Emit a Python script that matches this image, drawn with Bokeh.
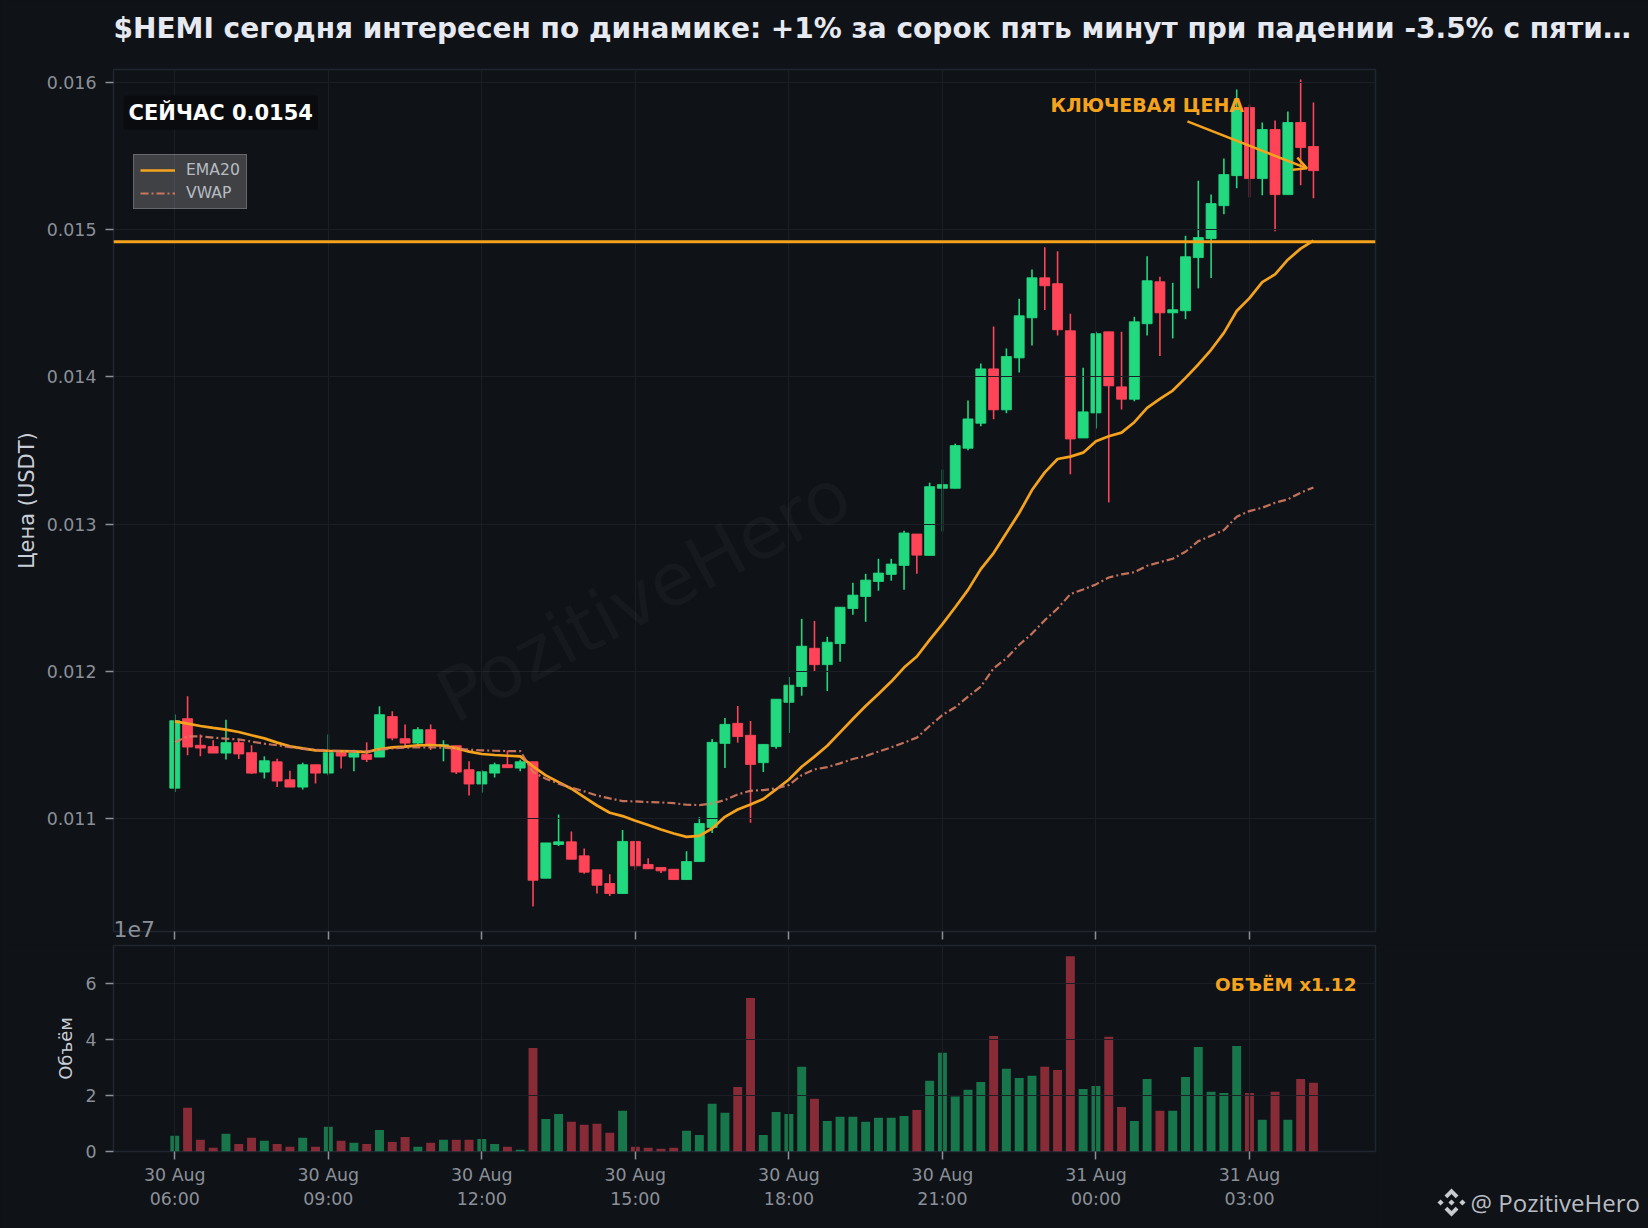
from bokeh.embed import file_html
from bokeh.layouts import column, row
from bokeh.models import (Arrow, FixedTicker, Label, Legend, LegendItem, NumeralTickFormatter,
                          OpenHead, Range1d, Span, ColumnDataSource)
from bokeh.plotting import figure
from bokeh.resources import INLINE

# prices in 1e-5 USDT, 15-minute candles from 30 Aug 06:00
OPEN = [1120.6,1167.8,1149.7,1148.8,1144.4,1151.5,1144.7,1131.5,1138.5,1126.3,
        1121.3,1136.5,1130.8,1144.7,1141.7,1143.5,1141.7,1169.2,1154.2,1151.2,
        1160.3,1149.4,1149.4,1133.1,1123.4,1130.8,1136.5,1134.2,1138.5,1059.4,
        1082.3,1084.1,1074.6,1065.1,1055.8,1049.0,1084.4,1068.7,1066.7,1065.5,
        1058.5,1070.7,1093.9,1151.0,1164.6,1156.5,1137.9,1148.8,1178.9,1189.6,
        1215.6,1204.5,1218.8,1242.6,1250.8,1261.0,1265.8,1271.9,1293.2,1278.7,
        1324.3,1324.3,1351.5,1368.5,1405.4,1377.6,1412.9,1440.1,1467.3,1463.3,
        1431.3,1358.5,1375.5,1430.6,1393.2,1384.8,1436.1,1464.6,1443.5,1444.9,
        1481.0,1493.9,1516.3,1536.7,1583.0,1534.7,1568.0,1523.8,1572.8,1556.5]
HIGH = [1170.7,1183.0,1157.1,1153.1,1167.1,1153.7,1149.7,1142.2,1140.6,1132.4,
        1137.9,1136.5,1157.1,1146.3,1146.7,1151.7,1176.2,1172.8,1163.9,1161.9,
        1163.9,1153.1,1149.4,1138.8,1132.7,1137.9,1146.3,1139.9,1138.5,1083.4,
        1102.7,1091.2,1079.6,1065.1,1062.1,1092.1,1084.4,1073.0,1066.7,1065.5,
        1077.8,1100.9,1154.0,1168.3,1176.4,1166.2,1150.3,1181.0,1196.1,1235.6,
        1234.2,1223.4,1243.5,1260.1,1266.2,1276.4,1276.4,1295.5,1293.2,1328.1,
        1337.0,1354.6,1383.9,1409.1,1434.2,1419.3,1453.1,1473.0,1488.0,1485.3,
        1442.9,1406.1,1430.6,1430.6,1430.6,1440.8,1481.9,1468.0,1463.9,1495.9,
        1533.3,1523.8,1548.3,1595.2,1585.0,1572.8,1574.2,1580.3,1602.0,1586.4]
LOW = [1117.9,1142.9,1142.2,1144.4,1140.1,1140.4,1130.2,1127.2,1121.3,1121.3,
       1119.7,1123.8,1129.3,1134.0,1132.0,1138.3,1141.7,1153.1,1149.0,1150.3,
       1146.5,1138.8,1130.2,1115.6,1117.7,1127.9,1134.2,1132.0,1040.1,1059.4,
       1081.2,1072.3,1062.4,1049.0,1047.4,1049.0,1064.9,1065.8,1063.0,1058.5,
       1058.5,1070.7,1090.2,1134.2,1151.5,1097.1,1131.5,1147.4,1158.1,1183.4,
       1199.5,1186.6,1206.4,1238.3,1233.6,1254.7,1261.5,1255.3,1266.2,1278.7,
       1295.0,1324.3,1350.1,1366.4,1371.2,1375.3,1402.9,1421.3,1445.4,1428.1,
       1333.8,1358.5,1364.9,1314.7,1377.8,1383.4,1428.1,1414.1,1426.1,1439.2,
       1460.1,1467.1,1510.4,1528.1,1522.0,1523.4,1498.9,1523.8,1530.2,1521.3]
CLOSE = [1166.4,1148.5,1147.8,1144.4,1151.5,1143.8,1130.8,1139.2,1125.4,1121.3,
         1136.5,1130.8,1144.7,1142.4,1144.4,1140.1,1170.5,1154.6,1151.2,1160.3,
         1149.4,1150.1,1131.5,1123.4,1131.7,1136.5,1134.5,1138.5,1058.0,1083.4,
         1084.1,1072.3,1063.5,1054.6,1049.0,1084.4,1067.8,1065.8,1064.4,1058.5,
         1070.7,1096.6,1151.7,1163.9,1155.6,1136.7,1150.3,1181.0,1190.5,1217.0,
         1204.5,1219.7,1243.5,1251.7,1261.9,1266.7,1272.8,1293.9,1278.9,1325.4,
         1326.8,1353.3,1371.4,1405.4,1377.6,1413.8,1441.5,1467.3,1461.9,1432.0,
         1357.8,1376.2,1429.3,1393.9,1384.8,1437.4,1465.3,1443.5,1445.6,1481.6,
         1494.6,1517.7,1537.4,1583.0,1534.7,1568.0,1523.8,1572.8,1555.8,1540.1]
EMA20 = [1166.0,1164.4,1162.8,1161.5,1160.3,1158.7,1156.5,1154.4,1151.5,1149.0,
         1147.6,1146.3,1146.0,1145.8,1145.6,1145.1,1147.2,1148.3,1148.8,1149.7,
         1149.9,1149.4,1147.8,1145.4,1143.8,1143.1,1142.6,1142.2,1135.4,1129.3,
         1124.7,1120.2,1114.5,1108.8,1103.9,1101.6,1098.4,1095.5,1092.5,1089.8,
         1087.5,1088.2,1093.2,1101.1,1106.1,1109.5,1113.2,1119.7,1126.5,1135.1,
         1142.0,1149.4,1158.5,1167.6,1176.4,1184.6,1193.0,1202.5,1210.0,1221.3,
         1232.0,1243.5,1255.3,1269.4,1280.3,1293.9,1307.5,1323.1,1335.1,1344.2,
         1345.8,1348.5,1356.2,1359.6,1362.1,1369.2,1378.9,1385.0,1390.7,1399.3,
         1408.4,1418.4,1429.9,1444.7,1453.5,1464.4,1469.6,1479.6,1487.1,1492.5]
VWAP = [1151.7,1155.8,1155.8,1154.9,1154.2,1153.7,1152.2,1150.8,1149.7,1148.5,
        1147.2,1146.7,1146.0,1145.8,1145.6,1145.4,1146.7,1147.6,1148.1,1148.3,
        1148.3,1148.1,1147.4,1146.7,1146.3,1146.0,1145.8,1145.8,1131.5,1127.0,
        1123.6,1120.9,1118.4,1115.6,1113.6,1111.8,1111.6,1111.1,1110.9,1110.4,
        1109.3,1109.1,1110.2,1112.5,1116.3,1118.8,1119.3,1120.4,1122.7,1129.5,
        1133.3,1134.9,1137.4,1140.4,1142.4,1145.4,1148.3,1151.5,1154.9,1162.8,
        1170.3,1175.5,1182.8,1189.6,1202.0,1208.8,1218.0,1225.6,1234.7,1242.6,
        1252.4,1255.6,1259.0,1263.7,1265.8,1267.3,1271.7,1274.1,1276.4,1281.2,
        1288.4,1292.1,1295.9,1305.0,1308.8,1311.1,1314.5,1316.8,1321.3,1324.9]
# volume in 1e7
VOLUME = [0.56,1.56,0.42,0.13,0.63,0.27,0.49,0.38,0.27,0.17,
          0.49,0.17,0.88,0.38,0.31,0.27,0.77,0.34,0.52,0.17,
          0.31,0.42,0.42,0.42,0.45,0.27,0.17,0.06,3.69,1.16,
          1.34,1.06,0.95,0.99,0.67,1.45,0.17,0.13,0.10,0.13,
          0.74,0.59,1.70,1.38,2.30,5.48,0.59,1.41,1.34,3.02,
          1.88,1.09,1.24,1.24,1.06,1.20,1.20,1.27,1.48,2.52,
          3.52,1.96,2.20,2.48,4.12,2.95,2.62,2.70,3.02,2.91,
          6.97,2.23,2.34,4.09,1.59,1.09,2.59,1.45,1.45,2.66,
          3.73,2.13,2.09,3.76,2.09,1.13,2.13,1.13,2.59,2.45]
X_TICKS = [0, 12, 24, 36, 48, 60, 72, 84]
X_LABELS = ["30 Aug\n06:00", "30 Aug\n09:00", "30 Aug\n12:00", "30 Aug\n15:00",
            "30 Aug\n18:00", "30 Aug\n21:00", "31 Aug\n00:00", "31 Aug\n03:00"]
Y_TICKS = [0.011, 0.012, 0.013, 0.014, 0.015, 0.016]
VOL_TICKS = [0, 2, 4, 6]
KEY_LEVEL = 0.014918
TITLE = "$HEMI сегодня интересен по динамике: +1% за сорок пять минут при падении -3.5% с пяти…"

BG, GRID, SPINE = "#0f1217", "#1b1f25", "#1f2630"
TICK, TICKTXT, LABELTXT = "#8a8f98", "#8b9098", "#c9ced6"
UP, DOWN, ORANGE, SALMON = "#22d97f", "#ff4458", "#f5a31c", "#d87c62"

SCALE = 1e-5
n = len(OPEN)
idx = list(range(n))
o = [v * SCALE for v in OPEN]
h = [v * SCALE for v in HIGH]
l = [v * SCALE for v in LOW]
c = [v * SCALE for v in CLOSE]
colors = [UP if cc >= oo else DOWN for oo, cc in zip(o, c)]
src = ColumnDataSource(dict(x=idx, o=o, h=h, l=l, c=c, color=colors,
                            top=[max(a, b) for a, b in zip(o, c)],
                            bot=[min(a, b) for a, b in zip(o, c)],
                            vol=VOLUME))

x_range = Range1d(-4.79, 93.85)


def style(p):
    p.background_fill_color = BG
    p.border_fill_color = BG
    p.outline_line_color = SPINE
    p.outline_line_width = 1.5
    p.grid.grid_line_color = GRID
    p.grid.grid_line_width = 1.2
    p.xaxis.ticker = FixedTicker(ticks=X_TICKS)
    for ax in (p.xaxis[0], p.yaxis[0]):
        ax.axis_line_color = None
        ax.major_tick_line_color = TICK
        ax.major_tick_line_width = 1.5
        ax.major_tick_out = 8
        ax.major_tick_in = 0
        ax.minor_tick_line_color = None
        ax.major_label_text_color = TICKTXT
        ax.major_label_text_font = "DejaVu Sans"
        ax.major_label_text_font_size = "17.4px"
        ax.major_label_standoff = 9
        ax.axis_label_text_color = LABELTXT
        ax.axis_label_text_font = "DejaVu Sans"
        ax.axis_label_text_font_style = "normal"


# ---------------- price pane
p1 = figure(width=1648, height=944, x_range=x_range, y_range=Range1d(0.010232, 0.016088),
            toolbar_location=None, output_backend="svg", tools="",
            min_border_left=113, min_border_right=273, min_border_top=69, min_border_bottom=13)
style(p1)
p1.yaxis.ticker = FixedTicker(ticks=Y_TICKS)
p1.yaxis.formatter = NumeralTickFormatter(format="0.000")
p1.yaxis.axis_label = "Цена (USDT)"
p1.yaxis.axis_label_text_font_size = "21px"
p1.yaxis.axis_label_standoff = 5
p1.xaxis.major_label_overrides = {t: "" for t in X_TICKS}
p1.xaxis.major_label_standoff = 0

p1.segment("x", "h", "x", "l", source=src, color="color", line_width=1.6, level="image")
p1.vbar("x", 0.78, "bot", "top", source=src, fill_color="color", line_color="color",
        line_alpha=0.85, line_width=1, level="image")
ema_r = p1.line(idx, [v * SCALE for v in EMA20], line_color=ORANGE, line_width=2.7)
vwap_r = p1.line(idx, [v * SCALE for v in VWAP], line_color=SALMON, line_width=2.2,
                 line_dash="8 3 2 3", line_alpha=0.9)

p1.add_layout(Span(location=KEY_LEVEL, dimension="width", line_color=ORANGE, line_width=3))

p1.add_layout(Label(x=36.64, y=0.012517, text="PozitiveHero", angle=28, angle_units="deg",
                    text_align="center", text_baseline="middle", text_color="#ffffff", text_alpha=0.03,
                    text_font="DejaVu Sans", text_font_size="73px"))
p1.add_layout(Label(x=-4.0, y=0.01568, text="СЕЙЧАС 0.0154", text_align="left", text_baseline="bottom",
                    text_color="#ffffff", text_font="DejaVu Sans", text_font_style="bold",
                    text_font_size="21px", padding=5, background_fill_color="#090b0e", border_radius=3))
p1.add_layout(Label(x=68.44, y=0.01585, text="КЛЮЧЕВАЯ ЦЕНА", text_align="left", text_baseline="middle",
                    text_color=ORANGE, text_font="DejaVu Sans", text_font_style="bold", text_font_size="19px"))
p1.add_layout(Arrow(x_start=79.15, y_start=0.015735, x_end=88.5, y_end=0.015416, line_color=ORANGE,
                    line_width=2.4, end=OpenHead(size=13, line_color=ORANGE, line_width=2.4)))
# placed on side panels: annotations in the centre panel are clipped to the frame
p1.add_layout(Label(x=-4.79, y=0.010249, text="1e7", text_align="left", text_baseline="middle",
                    text_color=TICKTXT, text_font="DejaVu Sans", text_font_size="22px"), "right")
p1.add_layout(Label(x=-4.79, y=0.016367, text=TITLE, text_align="left", text_baseline="middle",
                    text_color="#e6e9ef", text_font="DejaVu Sans", text_font_style="bold",
                    text_font_size="28px"), "above")

legend = Legend(items=[LegendItem(label="EMA20", renderers=[ema_r]),
                       LegendItem(label="VWAP", renderers=[vwap_r])],
                location=(20, 722), orientation="vertical",
                background_fill_color="#ffffff", background_fill_alpha=0.2,
                border_line_color="#ffffff", border_line_alpha=0.2, border_line_width=1.2,
                label_text_color="#b8bcc2", label_text_font="DejaVu Sans", label_text_font_size="15.6px",
                glyph_width=35, glyph_height=18, label_height=18, label_standoff=11,
                padding=6, spacing=5, margin=0)
p1.add_layout(legend)

# ---------------- volume pane
p2 = figure(width=1377, height=284, x_range=x_range, y_range=Range1d(0, 7.35),
            toolbar_location=None, output_backend="svg", tools="",
            min_border_left=113, min_border_right=2, min_border_top=1, min_border_bottom=77)
style(p2)
p2.yaxis.ticker = FixedTicker(ticks=VOL_TICKS)
p2.yaxis.axis_label = "Объём"
p2.yaxis.axis_label_text_font_size = "18px"
p2.yaxis.axis_label_standoff = 6
p2.xaxis.major_label_overrides = dict(zip(X_TICKS, X_LABELS))
p2.xaxis.major_label_text_line_height = 1.2
p2.xaxis.major_label_standoff = 5

p2.vbar("x", 0.7, 0, "vol", source=src, fill_color="color", fill_alpha=0.5, line_color=None, level="image")
p2.add_layout(Label(x=92.36, y=5.96, text="ОБЪЁМ x1.12", text_align="right", text_baseline="middle",
                    text_color=ORANGE, text_font="DejaVu Sans", text_font_style="bold", text_font_size="18.4px"))

# ---------------- signature strip beside the volume pane (page-pixel coordinates)
side = figure(width=271, height=284, x_range=Range1d(1377, 1648), y_range=Range1d(1228, 944),
              toolbar_location=None, output_backend="svg", tools="",
              x_axis_location=None, y_axis_location=None, min_border=0, outline_line_color=None)
side.frame_align = False
side.background_fill_color = BG
side.border_fill_color = BG
side.grid.visible = False
MARK_X, MARK_Y, MARK_R = 1451, 1202, 14
LOGO = [[(-.5, .5), (0, 1), (.5, .5), (.3, .3), (0, .6), (-.3, .3)],
        [(-.5, -.5), (0, -1), (.5, -.5), (.3, -.3), (0, -.6), (-.3, -.3)],
        [(-1, 0), (-.78, .22), (-.56, 0), (-.78, -.22)],
        [(1, 0), (.78, .22), (.56, 0), (.78, -.22)],
        [(-.22, 0), (0, .22), (.22, 0), (0, -.22)]]
side.patches([[MARK_X + MARK_R * a for a, _ in part] for part in LOGO],
             [[MARK_Y - MARK_R * b for _, b in part] for part in LOGO],
             fill_color="#c8ccd1", line_color=None)
side.add_layout(Label(x=1470, y=1202, text="@ PozitiveHero", text_align="left", text_baseline="middle",
                      text_color="#b8bcc2", text_font="Open Sans", text_font_size="24px"))

html = file_html(column(p1, row(p2, side, spacing=0), spacing=0), INLINE)
html = html.replace("<body>", f'<body style="background:{BG}">')
open("out.html", "w").write(html)
